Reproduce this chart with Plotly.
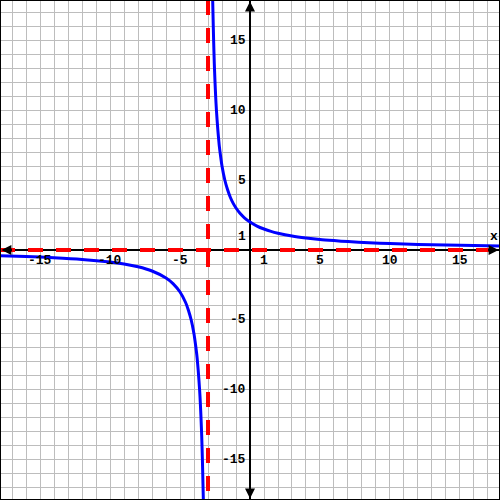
import plotly.graph_objects as go

# Curve branches
right_x = [-2.67, -2.64, -2.6, -2.55, -2.5, -2.45, -2.4, -2.3, -2.2, -2.1, -2.0, -1.8, -1.6, -1.4, -1.2, -1.0, -0.7, -0.4, 0.0, 0.5, 1.0, 1.5, 2.0, 3.0, 4.0, 5.0, 6.0, 7.0, 8.5, 10.0, 12.0, 14.0, 16.0, 18.0]
right_y = [18.0, 16.7, 15.0, 13.3, 12.0, 10.9, 10.0, 8.6, 7.5, 6.7, 6.0, 5.0, 4.3, 3.75, 3.33, 3.0, 2.6, 2.3, 2.0, 1.71, 1.5, 1.33, 1.2, 1.0, 0.86, 0.75, 0.67, 0.6, 0.52, 0.46, 0.4, 0.35, 0.32, 0.29]
left_x = [-18.0, -16.0, -14.0, -12.0, -10.0, -9.0, -8.0, -7.0, -6.0, -5.5, -5.0, -4.6, -4.4, -4.2, -4.0, -3.9, -3.8, -3.7, -3.6, -3.55, -3.5, -3.45, -3.4, -3.36, -3.33]
left_y = [-0.4, -0.46, -0.55, -0.67, -0.86, -1.0, -1.2, -1.5, -2.0, -2.4, -3.0, -3.75, -4.3, -5.0, -6.0, -6.7, -7.5, -8.6, -10.0, -10.9, -12.0, -13.3, -15.0, -16.7, -18.0]

# Asymptotes
vert_asym_x = -3
horiz_asym_y = 0

# Tick labels
x_ticks = [-15, -10, -5, 1, 5, 10, 15]
y_ticks = [15, 10, 5, 1, -5, -10, -15]

R = 17.86
font = dict(family="Liberation Mono, Courier New, monospace", size=13, color="black")

fig = go.Figure()

dash = "15px,13px"
fig.add_trace(go.Scatter(x=[-R, R], y=[horiz_asym_y, horiz_asym_y], mode="lines",
                         line=dict(color="#ff0000", width=4, dash=dash), hoverinfo="skip"))
fig.add_trace(go.Scatter(x=[vert_asym_x, vert_asym_x], y=[R, -R], mode="lines",
                         line=dict(color="#ff0000", width=4, dash=dash), hoverinfo="skip"))
fig.add_trace(go.Scatter(x=right_x, y=right_y, mode="lines",
                         line=dict(color="#0000ff", width=3, shape="spline", smoothing=0.6)))
fig.add_trace(go.Scatter(x=left_x, y=left_y, mode="lines",
                         line=dict(color="#0000ff", width=3, shape="spline", smoothing=0.6)))

ann = []
for t in x_ticks:
    ann.append(dict(x=t, y=0, text="<b>%d</b>" % t, showarrow=False, xanchor="center",
                    yanchor="top", yshift=-1, font=font))
for t in y_ticks:
    ann.append(dict(x=0, y=t, text="<b>%d</b>" % t, showarrow=False, xanchor="right",
                    yanchor="middle", xshift=-2, font=font))
ann.append(dict(x=17.45, y=0, text="<b>x</b>", showarrow=False, xanchor="center",
                yanchor="bottom", yshift=4, font=font))
ann.append(dict(x=0, y=17.9, text="<b>y</b>", showarrow=False, xanchor="left",
                yanchor="middle", xshift=2, font=font))
# arrowheads
arrow = dict(text="", showarrow=True, arrowhead=2, arrowsize=1.0, arrowwidth=2, arrowcolor="black")
ann.append(dict(x=R - 0.1, y=0, ax=-12, ay=0, **arrow))
ann.append(dict(x=-R + 0.1, y=0, ax=12, ay=0, **arrow))
ann.append(dict(x=0, y=R - 0.1, ax=0, ay=12, **arrow))
ann.append(dict(x=0, y=-R + 0.1, ax=0, ay=-12, **arrow))

axis_common = dict(range=[-R, R], dtick=1, tick0=0, showgrid=True, gridcolor="#bdbdbd",
                   gridwidth=1, zeroline=True, zerolinecolor="black", zerolinewidth=2,
                   showticklabels=False, ticks="", fixedrange=True)

fig.update_layout(
    width=500, height=500, margin=dict(l=0, r=0, t=0, b=0),
    paper_bgcolor="white", plot_bgcolor="white", showlegend=False,
    xaxis=axis_common, yaxis=axis_common, annotations=ann,
    shapes=[dict(type="rect", xref="paper", yref="paper", x0=0, y0=0, x1=1, y1=1,
                 line=dict(color="black", width=2))],
)

fig.write_html("out.html", config={"displayModeBar": False},
               post_script="document.body.style.margin='0';document.body.style.padding='0';")
